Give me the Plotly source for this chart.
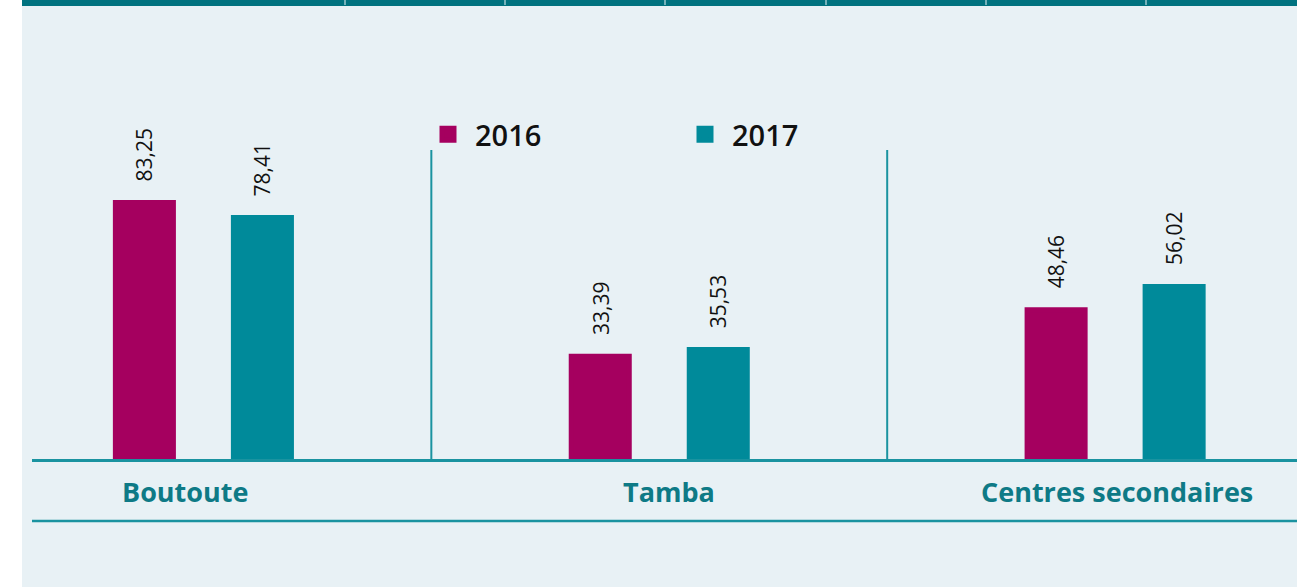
import plotly.graph_objects as go

categories = ["Boutoute", "Tamba", "Centres secondaires"]
years = ["2016", "2017"]
values_2016 = [83.25, 33.39, 48.46]
values_2017 = [78.41, 35.53, 56.02]

colors = {"2016": "#A5005F", "2017": "#008A9A"}
series = {"2016": values_2016, "2017": values_2017}

# style: horizontal nudges of the category labels (px)
label_nudge = [-18, 10, 2]

W, H = 1297, 587
ML, MR, MT, MB = 32, 0, 0, 128
plot_h = H - MT - MB
plot_w = W - ML - MR
px_per_unit = 3.08

fig = go.Figure()
bar_w = 0.1273
offsets = {"2016": -0.1931, "2017": 0.0658}
for yr in years:
    fig.add_trace(go.Bar(
        name=yr, x=categories, y=series[yr],
        marker=dict(color=colors[yr], line=dict(width=5, color=colors[yr])),
        width=bar_w, offset=offsets[yr],
    ))

annotations = []
xshifts = {"2016": -59, "2017": 59}
for yr in years:
    for c, v in zip(categories, series[yr]):
        annotations.append(dict(
            x=c, y=v, xref="x", yref="y",
            text=f"{v:.2f}".replace(".", ","),
            textangle=-90, showarrow=False,
            xanchor="center", yanchor="bottom",
            xshift=xshifts[yr], yshift=19,
            font=dict(family="Open Sans", size=21, color="#111111", weight=500),
        ))
for c, dx in zip(categories, label_nudge):
    annotations.append(dict(
        x=c, y=0, xref="x", yref="paper",
        text=c, showarrow=False, xanchor="center", yanchor="middle",
        xshift=dx, yshift=-32,
        font=dict(family="Open Sans", size=27, color="#0E7A86", weight=700),
    ))

shapes = []
# white left strip
shapes.append(dict(type="rect", xref="paper", yref="paper",
                   x0=-ML / plot_w, x1=(22 - ML) / plot_w,
                   y0=-MB / plot_h, y1=1.0 + MT / plot_h,
                   fillcolor="white", line=dict(width=0), layer="above"))
# top dark band
shapes.append(dict(type="rect", xref="paper", yref="paper",
                   x0=(22 - ML) / plot_w, x1=1.0,
                   y0=1.0 - 6 / plot_h, y1=1.0 + 0.01,
                   fillcolor="#00727F", line=dict(width=0), layer="above"))
for tx in [345, 505, 665, 826, 986, 1146]:
    shapes.append(dict(type="line", xref="paper", yref="paper",
                       x0=(tx - ML) / plot_w, x1=(tx - ML) / plot_w,
                       y0=1.0 - 5 / plot_h, y1=1.0,
                       line=dict(color="#E8F1F5", width=1), layer="above"))
# vertical dividers between categories
for xd in [0.5, 1.5]:
    shapes.append(dict(type="line", xref="x", yref="paper",
                       x0=xd, x1=xd, y0=0, y1=(459 - 150) / plot_h,
                       line=dict(color="#1A93A0", width=2), layer="below"))
# lower rule
shapes.append(dict(type="line", xref="paper", yref="paper",
                   x0=0, x1=1, y0=-(521 - 459) / plot_h, y1=-(521 - 459) / plot_h,
                   line=dict(color="#1A93A0", width=2.5)))

fig.update_layout(
    width=W, height=H,
    margin=dict(l=ML, r=MR, t=MT, b=MB),
    paper_bgcolor="#E8F1F5", plot_bgcolor="#E8F1F5",
    barmode="overlay",
    showlegend=True,
    legend=dict(orientation="h", x=(421 - ML) / plot_w, y=1 - 109 / plot_h,
                xanchor="left", yanchor="top",
                bgcolor="rgba(0,0,0,0)", itemwidth=44,
                entrywidth=198, entrywidthmode="pixels",
                font=dict(family="Open Sans", size=29, color="#111111", weight=600),
                traceorder="normal"),
    xaxis=dict(type="category", range=[-0.376, 2.399],
               showline=True, linecolor="#1A93A0", linewidth=2.5,
               showgrid=False, zeroline=False, ticks="", showticklabels=False),
    yaxis=dict(range=[0, plot_h / px_per_unit], visible=False, showgrid=False,
               zeroline=False),
    annotations=annotations,
    shapes=shapes,
)

fig.write_html("out.html", config={"displayModeBar": False},
               post_script="document.body.style.margin='0';")
